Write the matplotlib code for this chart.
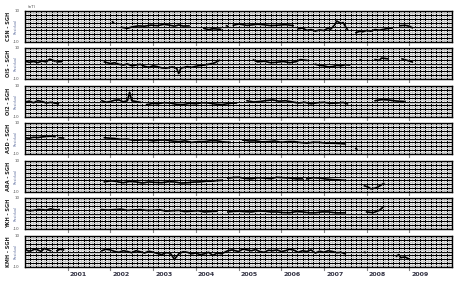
import numpy as np
import matplotlib
matplotlib.use("Agg")
import matplotlib.pyplot as plt
from matplotlib.ticker import MultipleLocator

nan = np.nan

# station pairs (top to bottom)
pairs = ["CSN - SGH", "OIS - SGH", "OI2 - SGH", "ASD - SGH", "ARA - SGH", "YKH - SGH", "KMH - SGH"]
years = [2001, 2002, 2003, 2004, 2005, 2006, 2007, 2008, 2009]

# residuals (nT), nan = gap
t_csn = [2002.05, 2002.07, nan, 2002.26, 2002.4, 2002.5, 2002.65, 2002.8, 2002.95, 2003.1, 2003.25, 2003.4,
         2003.5, 2003.6, 2003.7, 2003.84, nan,
         2004.19, 2004.3, 2004.4, 2004.58, nan, 2004.72, 2004.74, nan, 2004.88, 2005.0, 2005.1, 2005.2,
         2005.3, 2005.45, 2005.6, 2005.75, 2005.9, 2006.1, 2006.28, nan, 2006.4, 2006.5, 2006.6, 2006.7,
         2006.8, 2006.9, 2007.0, 2007.1, 2007.15, 2007.25, 2007.3, 2007.4, 2007.45, 2007.55, nan,
         2007.75, 2007.85, 2007.9, 2008.0, 2008.1, 2008.2, 2008.3, 2008.45, 2008.6, nan,
         2008.78, 2008.9, 2009.0, 2009.07]
v_csn = [3, 2.5, nan, -0.5, -1.2, -0.3, 0.4, 0.2, 0.9, 0.5, 1.4, 0.8,
         0.2, 1.0, 0.3, 0.4, nan,
         -1.2, -2.0, -1.4, -1.8, nan, 0.5, 0.3, nan, 0.8, 1.6, 1.2, 0.7,
         1.0, 1.5, 1.1, 0.6, 0.8, 1.2, 0.6, nan, -1.5, -1.0, -2.5, -2.0,
         -3.0, -2.2, -2.6, -1.0, -2.0, 1.0, 3.5, 2.0, 2.5, -2.0, nan,
         -4.0, -3.0, -3.5, -2.6, -3.0, -2.0, -2.4, -1.5, -1.0, nan,
         0.5, 0.8, 0.2, -0.8]

t_ois = [2000.0, 2000.1, 2000.2, 2000.3, 2000.4, 2000.5, 2000.58, 2000.7, nan, 2000.75, 2000.85, nan,
         2001.86, 2002.0, 2002.1, 2002.2, 2002.3, 2002.4, 2002.5, 2002.6, 2002.7, 2002.8, 2002.9, 2003.0,
         2003.1, 2003.2, 2003.3, 2003.45, 2003.55, 2003.6, 2003.65,
         2003.8, 2003.9, 2004.05, 2004.2, 2004.35, 2004.45, 2004.55, nan, 2005.35, 2005.45, 2005.6,
         2005.75, 2005.9, 2006.05, 2006.2, 2006.35, 2006.45, 2006.6, nan,
         2006.8, 2006.9, 2007.0, 2007.1, 2007.2, 2007.3, 2007.4, 2007.5, 2007.6, nan, 2007.85, 2007.87, nan,
         2008.2, 2008.3, 2008.35, 2008.5, nan, 2008.83, 2008.95, 2009.07]
v_ois = [1.5, 0.8, 1.3, 0.6, 1.6, 1.0, 2.8, 1.5, nan, 1.0, 1.2, nan,
         1.0, 0.0, 0.5, -0.5, -1.0, -0.3, -1.5, -1.0, -0.5, -1.8, -2.5, -1.5,
         -2.0, -2.8, -3.0, -2.2, -3.0, -6.5, -3.0,
         -2.0, -2.5, -1.5, -1.0, -0.2, 0.5, 2.0, nan, 2.3, 1.0, 1.5,
         0.5, 0.8, 1.3, 0.5, 1.2, 2.5, 2.0, nan,
         -0.5, -1.2, -1.5, -2.2, -2.0, -1.2, -1.5, -0.8, -1.0, nan, 2.3, 2.1, nan,
         2.5, 2.0, 3.5, 3.0, nan, 3.0, 2.0, 1.0]

t_oi2 = [2000.0, 2000.1, 2000.2, 2000.3, 2000.4, 2000.5, 2000.6, 2000.78, nan,
         2001.8, 2001.9, 2002.0, 2002.1, 2002.2, 2002.3, 2002.4, 2002.45, 2002.5, 2002.6, 2002.7, nan,
         2002.85, 2003.0, 2003.1, 2003.25, 2003.4, 2003.55, 2003.7, 2003.85, 2004.0, 2004.15, 2004.3,
         2004.45, 2004.6, 2004.8, 2004.95, nan,
         2005.2, 2005.35, 2005.5, 2005.65, 2005.8, 2005.95, 2006.1, 2006.25, 2006.4, 2006.55, 2006.7,
         2006.85, 2007.0, 2007.15, 2007.3, 2007.45, 2007.55, nan,
         2008.2, 2008.35, 2008.5, 2008.7, 2008.9]
v_oi2 = [-0.5, 0.3, -0.8, 0.5, 0.0, -1.0, -0.5, -1.5, nan,
         0.5, -0.5, 0.0, 0.8, 1.0, -0.2, 0.5, 6.0, 0.5, 0.0, -0.5, nan,
         -2.0, -1.2, -1.5, -0.8, -1.0, -1.8, -2.0, -1.2, -1.5, -0.8, -1.0,
         -1.6, -2.0, -1.2, -1.0, nan,
         0.5, -0.3, 0.0, 0.6, 1.0, 0.2, 0.5, -0.2, -1.0, -0.5, -1.5,
         -0.8, -0.5, -1.2, -1.0, -0.6, -1.5, nan,
         0.5, 1.2, 1.0, 0.3, 0.0]

t_asd = [2000.0, 2000.1, 2000.2, 2000.3, 2000.4, 2000.5, 2000.6, 2000.7, nan, 2000.8, 2000.9, nan,
         2001.86, 2002.0, 2002.1, 2002.25, 2002.4, 2002.55, 2002.7, 2002.85, 2003.0, 2003.15, 2003.3,
         2003.45, 2003.6, 2003.75, 2003.9, 2004.05, 2004.2, 2004.35, 2004.5, 2004.65, 2004.8, nan,
         2005.1, 2005.25, 2005.4, 2005.55, 2005.7, 2005.85, 2006.0, 2006.15, 2006.3, 2006.45, 2006.6,
         2006.75, 2006.9, 2007.05, 2007.2, 2007.35, 2007.5, nan,
         2007.75, 2007.77]
v_asd = [0.5, 0.2, 0.8, 0.6, 1.0, 1.3, 1.5, 1.2, nan, 0.5, 0.3, nan,
         0.5, 0.2, 0.0, -0.6, -0.5, -1.2, -1.0, -0.8, -1.5, -1.0, -1.0,
         -1.6, -2.0, -1.5, -2.5, -2.0, -2.0, -1.4, -1.5, -2.2, -2.5, nan,
         -1.0, -1.6, -1.5, -2.2, -2.0, -1.6, -2.5, -2.0, -2.0, -2.6, -3.0,
         -2.4, -2.5, -3.0, -3.0, -3.2, -3.5, nan,
         -6.5, -7.0]

t_ara = [2001.86, 2002.0, 2002.1, 2002.2, 2002.3, 2002.45, 2002.6, 2002.75, 2002.9, 2003.05, 2003.2,
         2003.35, 2003.5, 2003.65, 2003.8, 2003.95, 2004.1, 2004.25, 2004.4, 2004.5, 2004.6, nan,
         2004.75, 2004.9, 2005.0, 2005.15, 2005.3, 2005.45, 2005.6, 2005.75, 2005.9, 2006.05, 2006.2,
         2006.35, 2006.5, nan,
         2006.6, 2006.75, 2006.9, 2007.05, 2007.2, 2007.35, 2007.5, nan,
         2007.95, 2008.05, 2008.1, 2008.2, 2008.25, 2008.4]
v_ara = [-3.5, -2.8, -3.0, -3.6, -4.0, -3.2, -3.5, -4.2, -3.5, -3.8, -4.0,
         -3.4, -3.5, -4.2, -4.0, -3.6, -3.5, -3.0, -3.0, -2.6, -2.5, nan,
         -1.0, -0.6, -0.5, -1.2, -1.5, -0.8, -1.0, -1.4, -0.5, -0.8, -1.0,
         -1.5, -1.5, nan,
         -1.5, -0.8, -1.0, -1.6, -2.0, -2.2, -2.5, nan,
         -6.0, -7.0, -8.0, -7.5, -7.0, -4.5]

t_ykh = [2000.0, 2000.1, 2000.2, 2000.3, 2000.4, 2000.5, 2000.6, 2000.7, 2000.8, nan,
         2001.8, 2001.95, 2002.1, 2002.25, 2002.4, 2002.55, 2002.7, 2002.85, 2003.0, 2003.15, 2003.3,
         2003.45, 2003.6, 2003.75, 2003.9, 2004.05, 2004.2, 2004.35, 2004.5, nan,
         2004.75, 2004.9, 2005.0, 2005.15, 2005.3, 2005.45, 2005.6, 2005.75, 2005.9, 2006.05, 2006.2,
         2006.35, 2006.5, 2006.65, 2006.8, 2006.95, 2007.1, 2007.3, 2007.5, nan,
         2008.0, 2008.15, 2008.3, 2008.4]
v_ykh = [2.5, 1.8, 2.0, 2.6, 2.5, 2.2, 3.0, 2.4, 2.5, nan,
         2.5, 2.2, 2.5, 2.8, 2.0, 2.3, 2.5, 2.0, 2.0, 2.4, 1.5,
         1.8, 2.0, 1.2, 1.5, 1.8, 1.0, 1.3, 1.5, nan,
         1.0, 1.4, 1.5, 1.2, 1.0, 1.6, 1.5, 1.0, 1.0, 0.6, 0.5,
         1.2, 1.0, 0.5, 0.5, 1.0, 1.0, 0.4, 0.5, nan,
         1.0, 0.5, 2.0, 4.5]

t_kmh = [2000.0, 2000.08, 2000.15, 2000.22, 2000.3, 2000.38, 2000.45, 2000.52, 2000.6, nan,
         2000.75, 2000.82, 2000.9, nan,
         2001.8, 2001.9, 2002.0, 2002.1, 2002.2, 2002.3, 2002.4, 2002.5, 2002.6, 2002.7, 2002.8, 2002.9,
         2003.0, 2003.1, 2003.2, 2003.3, 2003.4, 2003.5, 2003.6,
         2003.7, 2003.8, 2003.9, 2004.0, 2004.1, 2004.2, 2004.3, 2004.4, 2004.5, 2004.6, 2004.75,
         2004.85, 2005.0, 2005.1, 2005.2, 2005.3, 2005.4, 2005.5, 2005.6, 2005.7, 2005.8,
         2005.9, 2006.0, 2006.1, 2006.2, 2006.3, 2006.4, 2006.5, 2006.6, 2006.7, 2006.8, 2006.9,
         2007.0, 2007.1, 2007.2, 2007.3, 2007.4, 2007.5, nan,
         2007.95, 2007.97, nan, 2008.7, 2008.75, 2008.8, 2008.9, 2009.0]
v_kmh = [1.5, 0.3, 0.5, 1.5, 1.0, 0.0, 2.0, 1.2, 0.5, nan,
         0.5, 1.5, 1.0, nan,
         0.5, 1.5, 1.0, 0.0, -0.5, 0.5, 0.0, -0.8, 0.5, -0.2, -1.0, 0.2,
         -0.5, -1.2, -2.0, -0.8, -1.0, -5.0, -1.5,
         -0.2, -0.5, -1.5, -1.0, -2.0, -1.5, -0.5, -2.5, -1.0, -1.5, 0.5,
         1.0, 0.0, 1.5, 1.0, 0.5, 1.2, 0.0, -0.5, 0.8, 0.5,
         1.0, 0.0, 0.5, 1.5, 0.8, -0.5, 0.5, 0.0, 1.0, -1.0, 0.2,
         -0.5, 0.5, 0.0, -0.8, -0.5, -1.5, nan,
         -0.5, -0.6, nan, -3.0, -2.0, -4.0, -3.5, -5.0]

series = [(t_csn, v_csn), (t_ois, v_ois), (t_oi2, v_oi2), (t_asd, v_asd),
          (t_ara, v_ara), (t_ykh, v_ykh), (t_kmh, v_kmh)]

fig = plt.figure(figsize=(4.58, 2.86), dpi=100)
W, H = 458.0, 286.0
tops = [11, 48, 86, 123, 161, 198, 236]
ph = 31

for i, (name, (t, v)) in enumerate(zip(pairs, series)):
    ax = fig.add_axes([25 / W, 1 - (tops[i] + ph) / H, 427 / W, ph / H])
    ax.set_xlim(2000, 2010)
    ax.set_ylim(-10, 10)
    ax.xaxis.set_major_locator(MultipleLocator(0.125))
    ax.xaxis.set_minor_locator(MultipleLocator(0.0625))
    ax.yaxis.set_major_locator(MultipleLocator(2.5))
    ax.yaxis.set_minor_locator(MultipleLocator(1.25))
    ax.grid(which="minor", color="#d0d0d0", lw=0.8)
    ax.grid(which="major", color="black", lw=0.8)
    ax.set_axisbelow(True)
    ax.tick_params(which="both", length=0, labelleft=False, labelbottom=False)
    for s in ax.spines.values():
        s.set_color("black")
        s.set_linewidth(1.0)
    ax.plot(t, v, color="black", lw=1.2, zorder=3)
    # year ticks below each panel
    for y in years:
        ax.plot([y, y], [-10.5, -12], color="#888888", lw=0.8, clip_on=False)
    ax.text(-0.012, 1.0, "10", transform=ax.transAxes, fontsize=3, ha="right", va="center", color="#555555")
    ax.text(-0.012, 0.0, "-10", transform=ax.transAxes, fontsize=3, ha="right", va="center", color="#555555")
    ax.text(-0.022, 0.5, "Residual", transform=ax.transAxes, fontsize=2.5, rotation=90,
            ha="center", va="center", color="#6070a0")
    fig.text(9 / W, 1 - (tops[i] + ph / 2) / H, name, rotation=90, fontsize=3.6,
             ha="center", va="center", color="#222222", fontweight="bold")
    if i == 0:
        ax.text(0.005, 1.08, "(nT)", transform=ax.transAxes, fontsize=3, ha="left", va="bottom", color="#555555")
    if i == len(pairs) - 1:
        for y in years:
            ax.text(y + 0.05, -13.5, str(y), fontsize=4.5, ha="left", va="top",
                    color="#333344", fontweight="bold")

fig.savefig("out.png", dpi=100)
